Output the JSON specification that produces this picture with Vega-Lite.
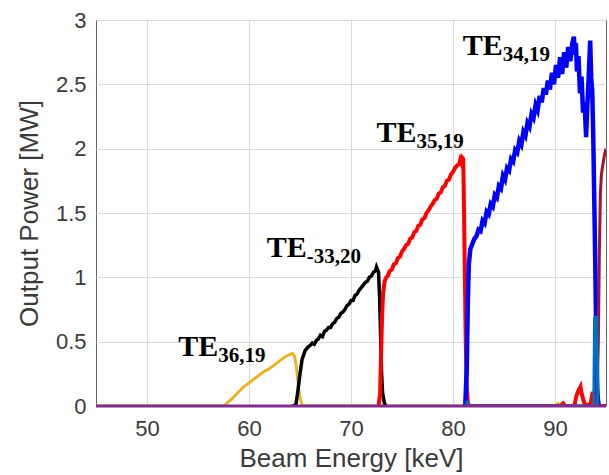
{
  "$schema": "https://vega.github.io/schema/vega-lite/v6.json",
  "width": 510,
  "height": 386,
  "autosize": {"type": "none"},
  "padding": {"left": 96, "top": 20, "right": 3, "bottom": 69},
  "background": "white",
  "config": {
    "view": {"stroke": "#666666", "strokeWidth": 1},
    "axis": {
      "labelFont": "Liberation Sans", "titleFont": "Liberation Sans",
      "labelColor": "#3a3a3a", "titleColor": "#3a3a3a",
      "labelFontSize": 22, "titleFontSize": 26, "titleFontWeight": "normal",
      "gridColor": "#d9d9d9", "gridWidth": 1, "domain": false, "ticks": false, "labelFlush": false
    }
  },
  "datasets": {
    "curves": [
      {"mode": "yellow", "x": 45, "y": 0}, {"mode": "yellow", "x": 57.5, "y": 0}, {"mode": "yellow", "x": 57.8, "y": 0.02}, {"mode": "yellow", "x": 58.1, "y": 0.04}, {"mode": "yellow", "x": 58.5, "y": 0.07}, {"mode": "yellow", "x": 59.0, "y": 0.11}, {"mode": "yellow", "x": 59.5, "y": 0.15}, {"mode": "yellow", "x": 60.0, "y": 0.18}, {"mode": "yellow", "x": 60.5, "y": 0.21}, {"mode": "yellow", "x": 61.0, "y": 0.24}, {"mode": "yellow", "x": 61.5, "y": 0.27}, {"mode": "yellow", "x": 62.0, "y": 0.29}, {"mode": "yellow", "x": 62.5, "y": 0.32}, {"mode": "yellow", "x": 63.0, "y": 0.35}, {"mode": "yellow", "x": 63.5, "y": 0.38}, {"mode": "yellow", "x": 64.0, "y": 0.4}, {"mode": "yellow", "x": 64.25, "y": 0.41}, {"mode": "yellow", "x": 64.45, "y": 0.39}, {"mode": "yellow", "x": 64.6, "y": 0.33}, {"mode": "yellow", "x": 64.75, "y": 0.22}, {"mode": "yellow", "x": 64.9, "y": 0.12}, {"mode": "yellow", "x": 65.05, "y": 0.05}, {"mode": "yellow", "x": 65.2, "y": 0.01}, {"mode": "yellow", "x": 65.4, "y": 0}, {"mode": "yellow", "x": 81.2, "y": 0}, {"mode": "yellow", "x": 81.35, "y": 0.08}, {"mode": "yellow", "x": 81.5, "y": 0}, {"mode": "yellow", "x": 90.0, "y": 0}, {"mode": "yellow", "x": 90.3, "y": 0.02}, {"mode": "yellow", "x": 90.5, "y": 0}, {"mode": "yellow", "x": 93.9, "y": 0}, {"mode": "yellow", "x": 94.0, "y": 0.12}, {"mode": "yellow", "x": 94.1, "y": 0.19}, {"mode": "yellow", "x": 94.2, "y": 0.05}, {"mode": "yellow", "x": 94.3, "y": 0}, {"mode": "yellow", "x": 95, "y": 0},

      {"mode": "black", "x": 64.3, "y": 0}, {"mode": "black", "x": 64.6, "y": 0.01}, {"mode": "black", "x": 64.8, "y": 0.12}, {"mode": "black", "x": 65.0, "y": 0.25}, {"mode": "black", "x": 65.2, "y": 0.36}, {"mode": "black", "x": 65.5, "y": 0.43}, {"mode": "black", "x": 65.8, "y": 0.46}, {"mode": "black", "x": 66.0, "y": 0.47}, {"mode": "black", "x": 66.2, "y": 0.49}, {"mode": "black", "x": 66.4, "y": 0.48}, {"mode": "black", "x": 66.6, "y": 0.51}, {"mode": "black", "x": 66.8, "y": 0.52}, {"mode": "black", "x": 67.0, "y": 0.55}, {"mode": "black", "x": 67.2, "y": 0.54}, {"mode": "black", "x": 67.4, "y": 0.58}, {"mode": "black", "x": 67.6, "y": 0.59}, {"mode": "black", "x": 67.8, "y": 0.61}, {"mode": "black", "x": 68.0, "y": 0.61}, {"mode": "black", "x": 68.2, "y": 0.64}, {"mode": "black", "x": 68.4, "y": 0.65}, {"mode": "black", "x": 68.6, "y": 0.68}, {"mode": "black", "x": 68.8, "y": 0.69}, {"mode": "black", "x": 69.0, "y": 0.72}, {"mode": "black", "x": 69.2, "y": 0.73}, {"mode": "black", "x": 69.4, "y": 0.75}, {"mode": "black", "x": 69.6, "y": 0.78}, {"mode": "black", "x": 69.8, "y": 0.79}, {"mode": "black", "x": 70.0, "y": 0.82}, {"mode": "black", "x": 70.2, "y": 0.82}, {"mode": "black", "x": 70.4, "y": 0.86}, {"mode": "black", "x": 70.6, "y": 0.87}, {"mode": "black", "x": 70.8, "y": 0.9}, {"mode": "black", "x": 71.0, "y": 0.92}, {"mode": "black", "x": 71.2, "y": 0.94}, {"mode": "black", "x": 71.4, "y": 0.96}, {"mode": "black", "x": 71.6, "y": 0.97}, {"mode": "black", "x": 71.8, "y": 1.0}, {"mode": "black", "x": 72.0, "y": 1.01}, {"mode": "black", "x": 72.2, "y": 1.04}, {"mode": "black", "x": 72.4, "y": 1.05}, {"mode": "black", "x": 72.5, "y": 1.08}, {"mode": "black", "x": 72.6, "y": 1.06}, {"mode": "black", "x": 72.7, "y": 1.04}, {"mode": "black", "x": 72.8, "y": 0.85}, {"mode": "black", "x": 72.9, "y": 0.55}, {"mode": "black", "x": 73.0, "y": 0.25}, {"mode": "black", "x": 73.1, "y": 0.1}, {"mode": "black", "x": 73.25, "y": 0.03}, {"mode": "black", "x": 73.4, "y": 0},

      {"mode": "red", "x": 72.7, "y": 0}, {"mode": "red", "x": 72.85, "y": 0.1}, {"mode": "red", "x": 72.95, "y": 0.4}, {"mode": "red", "x": 73.05, "y": 0.7}, {"mode": "red", "x": 73.15, "y": 0.88}, {"mode": "red", "x": 73.3, "y": 0.97}, {"mode": "red", "x": 73.45, "y": 1.0}, {"mode": "red", "x": 73.6, "y": 1.01}, {"mode": "red", "x": 73.8, "y": 1.05}, {"mode": "red", "x": 74.0, "y": 1.06}, {"mode": "red", "x": 74.2, "y": 1.1}, {"mode": "red", "x": 74.4, "y": 1.11}, {"mode": "red", "x": 74.6, "y": 1.15}, {"mode": "red", "x": 74.8, "y": 1.16}, {"mode": "red", "x": 75.0, "y": 1.2}, {"mode": "red", "x": 75.2, "y": 1.22}, {"mode": "red", "x": 75.4, "y": 1.25}, {"mode": "red", "x": 75.6, "y": 1.26}, {"mode": "red", "x": 75.8, "y": 1.3}, {"mode": "red", "x": 76.0, "y": 1.31}, {"mode": "red", "x": 76.2, "y": 1.35}, {"mode": "red", "x": 76.4, "y": 1.36}, {"mode": "red", "x": 76.6, "y": 1.4}, {"mode": "red", "x": 76.8, "y": 1.41}, {"mode": "red", "x": 77.0, "y": 1.45}, {"mode": "red", "x": 77.2, "y": 1.46}, {"mode": "red", "x": 77.4, "y": 1.5}, {"mode": "red", "x": 77.6, "y": 1.52}, {"mode": "red", "x": 77.8, "y": 1.55}, {"mode": "red", "x": 78.0, "y": 1.57}, {"mode": "red", "x": 78.2, "y": 1.6}, {"mode": "red", "x": 78.4, "y": 1.61}, {"mode": "red", "x": 78.6, "y": 1.65}, {"mode": "red", "x": 78.8, "y": 1.66}, {"mode": "red", "x": 79.0, "y": 1.7}, {"mode": "red", "x": 79.2, "y": 1.71}, {"mode": "red", "x": 79.4, "y": 1.75}, {"mode": "red", "x": 79.6, "y": 1.76}, {"mode": "red", "x": 79.8, "y": 1.8}, {"mode": "red", "x": 80.0, "y": 1.82}, {"mode": "red", "x": 80.2, "y": 1.85}, {"mode": "red", "x": 80.4, "y": 1.87}, {"mode": "red", "x": 80.6, "y": 1.88}, {"mode": "red", "x": 80.7, "y": 1.91}, {"mode": "red", "x": 80.8, "y": 1.89}, {"mode": "red", "x": 80.9, "y": 1.93}, {"mode": "red", "x": 81.0, "y": 1.92}, {"mode": "red", "x": 81.05, "y": 1.7}, {"mode": "red", "x": 81.15, "y": 1.1}, {"mode": "red", "x": 81.25, "y": 0.5}, {"mode": "red", "x": 81.35, "y": 0.15}, {"mode": "red", "x": 81.45, "y": 0.03}, {"mode": "red", "x": 81.6, "y": 0}, {"mode": "red", "x": 90.5, "y": 0}, {"mode": "red", "x": 90.8, "y": 0.02}, {"mode": "red", "x": 91.0, "y": 0}, {"mode": "red", "x": 91.9, "y": 0}, {"mode": "red", "x": 92.1, "y": 0.08}, {"mode": "red", "x": 92.3, "y": 0.12}, {"mode": "red", "x": 92.5, "y": 0.15}, {"mode": "red", "x": 92.6, "y": 0.1}, {"mode": "red", "x": 92.8, "y": 0.04}, {"mode": "red", "x": 93.0, "y": 0}, {"mode": "red", "x": 93.5, "y": 0.02}, {"mode": "red", "x": 93.7, "y": 0.11}, {"mode": "red", "x": 93.8, "y": 0.03}, {"mode": "red", "x": 94.0, "y": 0.1}, {"mode": "red", "x": 94.15, "y": 0.11}, {"mode": "red", "x": 94.3, "y": 0}, {"mode": "red", "x": 95, "y": 0},

      {"mode": "blue", "x": 81.2, "y": 0}, {"mode": "blue", "x": 81.35, "y": 0.3}, {"mode": "blue", "x": 81.45, "y": 0.8}, {"mode": "blue", "x": 81.55, "y": 1.1}, {"mode": "blue", "x": 81.7, "y": 1.22}, {"mode": "blue", "x": 81.9, "y": 1.26}, {"mode": "blue", "x": 82.1, "y": 1.3}, {"mode": "blue", "x": 82.3, "y": 1.32}, {"mode": "blue", "x": 82.5, "y": 1.37}, {"mode": "blue", "x": 82.7, "y": 1.36}, {"mode": "blue", "x": 82.9, "y": 1.44}, {"mode": "blue", "x": 83.1, "y": 1.42}, {"mode": "blue", "x": 83.3, "y": 1.51}, {"mode": "blue", "x": 83.5, "y": 1.49}, {"mode": "blue", "x": 83.7, "y": 1.57}, {"mode": "blue", "x": 83.9, "y": 1.55}, {"mode": "blue", "x": 84.1, "y": 1.64}, {"mode": "blue", "x": 84.3, "y": 1.62}, {"mode": "blue", "x": 84.5, "y": 1.71}, {"mode": "blue", "x": 84.7, "y": 1.69}, {"mode": "blue", "x": 84.9, "y": 1.79}, {"mode": "blue", "x": 85.1, "y": 1.76}, {"mode": "blue", "x": 85.3, "y": 1.85}, {"mode": "blue", "x": 85.5, "y": 1.83}, {"mode": "blue", "x": 85.7, "y": 1.92}, {"mode": "blue", "x": 85.9, "y": 1.9}, {"mode": "blue", "x": 86.1, "y": 1.99}, {"mode": "blue", "x": 86.3, "y": 1.97}, {"mode": "blue", "x": 86.5, "y": 2.06}, {"mode": "blue", "x": 86.7, "y": 2.03}, {"mode": "blue", "x": 86.9, "y": 2.13}, {"mode": "blue", "x": 87.1, "y": 2.1}, {"mode": "blue", "x": 87.3, "y": 2.2}, {"mode": "blue", "x": 87.5, "y": 2.17}, {"mode": "blue", "x": 87.7, "y": 2.27}, {"mode": "blue", "x": 87.9, "y": 2.24}, {"mode": "blue", "x": 88.1, "y": 2.34}, {"mode": "blue", "x": 88.3, "y": 2.3}, {"mode": "blue", "x": 88.5, "y": 2.41}, {"mode": "blue", "x": 88.7, "y": 2.36}, {"mode": "blue", "x": 88.9, "y": 2.47}, {"mode": "blue", "x": 89.1, "y": 2.42}, {"mode": "blue", "x": 89.3, "y": 2.53}, {"mode": "blue", "x": 89.5, "y": 2.46}, {"mode": "blue", "x": 89.7, "y": 2.59}, {"mode": "blue", "x": 89.9, "y": 2.5}, {"mode": "blue", "x": 90.1, "y": 2.65}, {"mode": "blue", "x": 90.3, "y": 2.55}, {"mode": "blue", "x": 90.5, "y": 2.71}, {"mode": "blue", "x": 90.7, "y": 2.58}, {"mode": "blue", "x": 90.9, "y": 2.75}, {"mode": "blue", "x": 91.1, "y": 2.63}, {"mode": "blue", "x": 91.3, "y": 2.79}, {"mode": "blue", "x": 91.5, "y": 2.68}, {"mode": "blue", "x": 91.7, "y": 2.82}, {"mode": "blue", "x": 91.85, "y": 2.87}, {"mode": "blue", "x": 91.95, "y": 2.73}, {"mode": "blue", "x": 92.05, "y": 2.82}, {"mode": "blue", "x": 92.15, "y": 2.6}, {"mode": "blue", "x": 92.3, "y": 2.72}, {"mode": "blue", "x": 92.45, "y": 2.43}, {"mode": "blue", "x": 92.6, "y": 2.56}, {"mode": "blue", "x": 92.75, "y": 2.28}, {"mode": "blue", "x": 92.9, "y": 2.36}, {"mode": "blue", "x": 93.05, "y": 2.09}, {"mode": "blue", "x": 93.15, "y": 2.3}, {"mode": "blue", "x": 93.3, "y": 2.55}, {"mode": "blue", "x": 93.45, "y": 2.84}, {"mode": "blue", "x": 93.55, "y": 2.55}, {"mode": "blue", "x": 93.65, "y": 2.45}, {"mode": "blue", "x": 93.75, "y": 2.1}, {"mode": "blue", "x": 93.85, "y": 1.6}, {"mode": "blue", "x": 93.95, "y": 1.1}, {"mode": "blue", "x": 94.05, "y": 0.5}, {"mode": "blue", "x": 94.15, "y": 0.1}, {"mode": "blue", "x": 94.25, "y": 0},

      {"mode": "crimson", "x": 94.1, "y": 0}, {"mode": "crimson", "x": 94.25, "y": 0.5}, {"mode": "crimson", "x": 94.35, "y": 1.2}, {"mode": "crimson", "x": 94.45, "y": 1.65}, {"mode": "crimson", "x": 94.55, "y": 1.8}, {"mode": "crimson", "x": 94.7, "y": 1.88}, {"mode": "crimson", "x": 94.85, "y": 1.95}, {"mode": "crimson", "x": 95, "y": 2.0},

      {"mode": "teal", "x": 81.3, "y": 0}, {"mode": "teal", "x": 81.4, "y": 0.04}, {"mode": "teal", "x": 81.5, "y": 0}, {"mode": "teal", "x": 93.8, "y": 0}, {"mode": "teal", "x": 93.88, "y": 0.69}, {"mode": "teal", "x": 93.95, "y": 0.4}, {"mode": "teal", "x": 94.02, "y": 0.69}, {"mode": "teal", "x": 94.1, "y": 0.69}, {"mode": "teal", "x": 94.2, "y": 0},

      {"mode": "purple", "x": 45, "y": 0}, {"mode": "purple", "x": 95, "y": 0}
    ],
    "labels": [
      {"x": 53.06, "y": 0.389, "sub": "36,19"},
      {"x": 61.73, "y": 1.16, "sub": "-33,20"},
      {"x": 72.49, "y": 2.055, "sub": "35,19"},
      {"x": 80.95, "y": 2.727, "sub": "34,19"}
    ]
  },
  "encoding": {
    "x": {"field": "x", "type": "quantitative", "scale": {"domain": [45, 95], "nice": false, "zero": false},
      "axis": {"title": "Beam Energy [keV]", "values": [50, 60, 70, 80, 90], "labelPadding": 12, "titlePadding": 6}},
    "y": {"field": "y", "type": "quantitative", "scale": {"domain": [0, 3], "nice": false},
      "axis": {"title": "Output Power [MW]", "values": [0, 0.5, 1, 1.5, 2, 2.5, 3], "format": "~g", "labelPadding": 10, "titlePadding": 13}}
  },
  "layer": [
    {"data": {"name": "curves"}, "transform": [{"filter": "datum.mode == 'yellow'"}], "mark": {"type": "line", "color": "#EDB120", "strokeWidth": 2.8, "clip": true}},
    {"data": {"name": "curves"}, "transform": [{"filter": "datum.mode == 'black'"}], "mark": {"type": "line", "color": "#000000", "strokeWidth": 3.5, "clip": true}},
    {"data": {"name": "curves"}, "transform": [{"filter": "datum.mode == 'red'"}], "mark": {"type": "line", "color": "#FF0000", "strokeWidth": 4, "clip": true}},
    {"data": {"name": "curves"}, "transform": [{"filter": "datum.mode == 'blue'"}], "mark": {"type": "line", "color": "#0000FF", "strokeWidth": 4.5, "clip": true}},
    {"data": {"name": "curves"}, "transform": [{"filter": "datum.mode == 'crimson'"}], "mark": {"type": "line", "color": "#A2142F", "strokeWidth": 3, "clip": true}},
    {"data": {"name": "curves"}, "transform": [{"filter": "datum.mode == 'teal'"}], "mark": {"type": "line", "color": "#0072BD", "strokeWidth": 3, "clip": true}},
    {"data": {"name": "curves"}, "transform": [{"filter": "datum.mode == 'purple'"}], "mark": {"type": "line", "color": "#7E2F8E", "strokeWidth": 3, "clip": false}},
    {"data": {"name": "labels"}, "mark": {"type": "text", "text": "TE", "font": "Liberation Serif", "fontWeight": "bold", "fontSize": 30, "align": "left", "baseline": "alphabetic", "color": "#000000"}},
    {"data": {"name": "labels"}, "mark": {"type": "text", "font": "Liberation Serif", "fontWeight": "bold", "fontSize": 21, "align": "left", "baseline": "alphabetic", "dx": 40, "dy": 6, "color": "#000000"},
      "encoding": {"text": {"field": "sub", "type": "nominal"}}}
  ]
}
